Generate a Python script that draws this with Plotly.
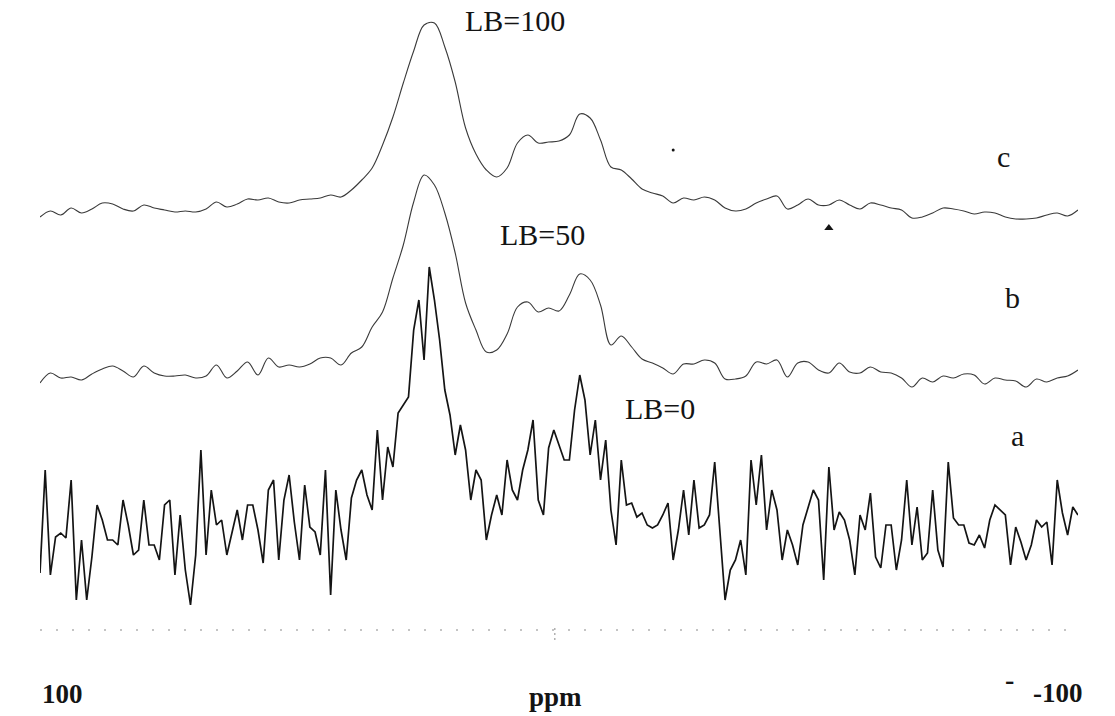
import numpy as np
import plotly.graph_objects as go

# Chemical-shift sampling grids (ppm), high field on the right
ppm_smooth = np.arange(100, -100.1, -2.0)   # 101 points for the broadened spectra
ppm_raw = np.arange(100, -100.1, -1.0)      # 201 points for the unbroadened spectrum

# c: line broadening 100 Hz
lb100 = [-7, -1, -5, 2, -3, 1, 7, 6, 1, -1, 5, 2, 0, -2, -1, -2, 1, 8, 3, 6,
         11, 10, 12, 8, 7, 10, 11, 12, 15, 13, 20, 30, 42, 65, 93, 127, 159, 185, 187, 163,
         128, 82, 56, 40, 33, 42, 67, 75, 67, 68, 69, 75, 96, 92, 70, 43, 40, 31, 21, 17,
         14, 7, 12, 10, 13, 10, 2, -1, 1, 7, 11, 14, 1, 5, 11, 5, 5, 10, 5, 1,
         7, 5, 2, 0, -8, -7, -3, 2, 1, -1, -4, -2, -3, -7, -9, -9, -8, -5, -3, -6, 0]

# b: line broadening 50 Hz
lb50 = [-8, 2, -3, -2, -5, 1, 6, 9, 4, -2, 9, 2, -1, -1, 0, -3, -1, 10, -3, 4,
        13, 0, 17, 8, 10, 8, 11, 17, 17, 10, 22, 28, 48, 63, 97, 130, 173, 200, 190, 162,
        122, 72, 45, 23, 25, 41, 68, 73, 63, 67, 64, 80, 101, 95, 70, 30, 39, 28, 16, 12,
        7, 1, 11, 11, 15, 12, -4, -4, -1, 13, 11, 15, -2, 12, 13, 5, 2, 12, 3, 2,
        8, 3, 2, -3, -12, -3, -7, -1, -3, 1, 0, -9, -3, -5, -6, -12, -4, -7, -3, -1, 5]

# a: no line broadening
lb0 = [-33, 70, -35, 3, 7, 2, 60, -60, 0, -60, -17, 35, 20, 0, 0, -5, 40, 15, -15, -10,
       40, -5, -5, -20, 35, 40, -35, 25, -30, -65, -15, 90, -15, 50, 15, 20, -15, 7, 30, 0,
       35, 35, 10, -23, 50, 60, -20, 40, 65, 18, -20, 55, 13, 8, -15, 70, -55, 50, 10, -20,
       42, 60, 70, 45, 30, 110, 40, 93, 73, 127, 135, 143, 210, 240, 180, 273, 240, 200, 150, 125,
       85, 115, 90, 40, 70, 60, 0, 25, 45, 25, 80, 50, 40, 70, 90, 120, 40, 25, 92, 110,
       95, 80, 80, 130, 165, 140, 85, 120, 60, 100, 30, -5, 80, 35, 37, 23, 27, 15, 12, 15,
       25, 37, -20, 10, 50, 5, 60, 12, 15, 25, 78, 10, -60, -30, -20, 0, -35, 80, 35, 85,
       10, 50, 30, -20, 10, -5, -25, 15, 33, 50, 40, -40, 73, 10, 28, 20, 0, -35, 25, 10,
       47, -17, -28, 15, 15, -30, 0, 60, -5, 33, -20, -13, 50, -10, -27, 78, 22, 15, 15, -3,
       -5, 5, -8, 20, 35, 30, 25, -25, 13, -2, -20, -5, 20, 13, 18, -25, 60, 27, 5, 33, 25]

# Vertical stacking of the three spectra
OFFSET_C, OFFSET_B, OFFSET_A = 430, 265, 100

INK = "#141414"
SERIF = "Liberation Serif, Times New Roman, serif"

fig = go.Figure()
fig.add_trace(go.Scatter(x=ppm_smooth, y=np.array(lb100) + OFFSET_C, mode="lines",
                         line=dict(color="#3a3a3a", width=1.1), line_shape="spline",
                         hoverinfo="skip"))
fig.add_trace(go.Scatter(x=ppm_smooth, y=np.array(lb50) + OFFSET_B, mode="lines",
                         line=dict(color="#3a3a3a", width=1.1), line_shape="spline",
                         hoverinfo="skip"))
fig.add_trace(go.Scatter(x=ppm_raw, y=np.array(lb0) + OFFSET_A, mode="lines",
                         line=dict(color=INK, width=1.7), hoverinfo="skip"))

# stray specks on the trace area
fig.add_trace(go.Scatter(x=[-22], y=[490], mode="markers",
                         marker=dict(color=INK, size=3), hoverinfo="skip"))
fig.add_trace(go.Scatter(x=[-52], y=[412], mode="markers",
                         marker=dict(color=INK, size=8, symbol="triangle-up"),
                         hoverinfo="skip"))

# faint dotted ppm axis with a tick near 0 ppm
fig.add_shape(type="line", x0=100, x1=-100, y0=10, y1=10, xref="x", yref="y",
              line=dict(color="#8a8a8a", width=1.2, dash="2px,14px"))
fig.add_shape(type="line", x0=0.8, x1=0.8, y0=12, y1=-3, xref="x", yref="y",
              line=dict(color="#8a8a8a", width=1, dash="2px,3px"))

annotations = [
    dict(text="LB=100", x=8.5, y=620),
    dict(text="LB=50", x=3.1, y=406),
    dict(text="LB=0", x=-19.5, y=232),
    dict(text="c", x=-85.7, y=484),
    dict(text="b", x=-87.3, y=343),
    dict(text="a", x=-88.4, y=205),
]
for a in annotations:
    fig.add_annotation(text=a["text"], x=a["x"], y=a["y"], xref="x", yref="y",
                       showarrow=False, font=dict(family=SERIF, size=30, color=INK))

for text, x, anchor, y in [("<b>100</b>", 0.0, "left", -0.068),
                           ("<b>ppm</b>", 0.497, "center", -0.073),
                           ("<b>-100</b>", 1.0067, "right", -0.066)]:
    fig.add_annotation(text=text, x=x, y=y, xref="paper", yref="paper",
                       xanchor=anchor, yanchor="middle", showarrow=False,
                       font=dict(family=SERIF, size=27, color=INK))
fig.add_annotation(text="<b>-</b>", x=0.94, y=-0.072, xref="paper", yref="paper",
                   showarrow=False, font=dict(family=SERIF, size=28, color=INK))

fig.update_layout(
    width=1115, height=716,
    margin=dict(l=40, r=37, t=0, b=66),
    paper_bgcolor="white", plot_bgcolor="white",
    showlegend=False,
    xaxis=dict(range=[100, -100], visible=False),
    yaxis=dict(range=[-10, 640], visible=False),
)

fig.write_html("out.html")
